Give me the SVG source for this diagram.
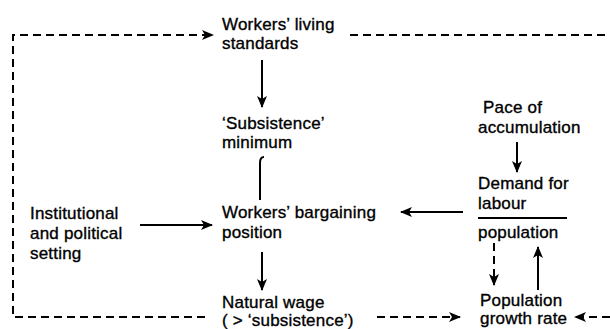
<svg xmlns="http://www.w3.org/2000/svg" width="610" height="329" viewBox="0 0 610 329">
<style>
text{font-family:"Liberation Sans",Arial,sans-serif;font-size:17px;fill:#000;stroke:#000;stroke-width:0.35;letter-spacing:0.2px}
.s{fill:none;stroke:#000;stroke-width:2}
.d{fill:none;stroke:#000;stroke-width:2;stroke-dasharray:8 5}
</style>
<defs>
<marker id="ah" viewBox="0 0 12 10" refX="11" refY="5" markerWidth="12" markerHeight="10" markerUnits="userSpaceOnUse" orient="auto">
<path d="M0,0 L12,5 L0,10 L3,5 z" fill="#000"/>
</marker>
</defs>
<rect width="610" height="329" fill="#fff"/>
<g id="connectors">
<path class="d" d="M205,317 H13 V35 H213" marker-end="url(#ah)"/>
<path class="d" d="M350,35 H610"/>
<path class="d" d="M610,317 H575" marker-end="url(#ah)"/>
<path class="d" d="M377,317 H460" marker-end="url(#ah)"/>
<path class="s" d="M262,60 V107" marker-end="url(#ah)"/>
<path class="s" d="M264,157 Q260,157 260,163 V200"/>
<path class="s" d="M262,252 V290" marker-end="url(#ah)"/>
<path class="s" d="M140,225 H212" marker-end="url(#ah)"/>
<path class="s" d="M463,212 H401" marker-end="url(#ah)"/>
<path class="s" d="M517,142 V172" marker-end="url(#ah)"/>
<path class="d" d="M494,243 V285" marker-end="url(#ah)"/>
<path class="s" d="M538,290 V247" marker-end="url(#ah)"/>
</g>
<g id="living-standards">
<text x="222" y="30">Workers’ living</text>
<text x="222" y="49">standards</text>
</g>
<g id="subsistence">
<text x="222" y="129">‘Subsistence’</text>
<text x="222" y="148">minimum</text>
</g>
<g id="bargaining">
<text x="222" y="218">Workers’ bargaining</text>
<text x="222" y="238">position</text>
</g>
<g id="natural-wage">
<text x="222" y="308">Natural wage</text>
<text x="222" y="326">( &gt; ‘subsistence’)</text>
</g>
<g id="institutional">
<text x="30" y="219">Institutional</text>
<text x="30" y="239">and political</text>
<text x="30" y="259">setting</text>
</g>
<g id="accumulation">
<text x="483" y="113">Pace of</text>
<text x="478" y="133">accumulation</text>
</g>
<g id="demand">
<text x="478" y="189">Demand for</text>
<text x="478" y="209">labour</text>
<line class="s" x1="478" y1="218" x2="567" y2="218"/>
<text x="478" y="238">population</text>
</g>
<g id="population-growth">
<text x="480" y="306">Population</text>
<text x="480" y="324">growth rate</text>
</g>
</svg>
